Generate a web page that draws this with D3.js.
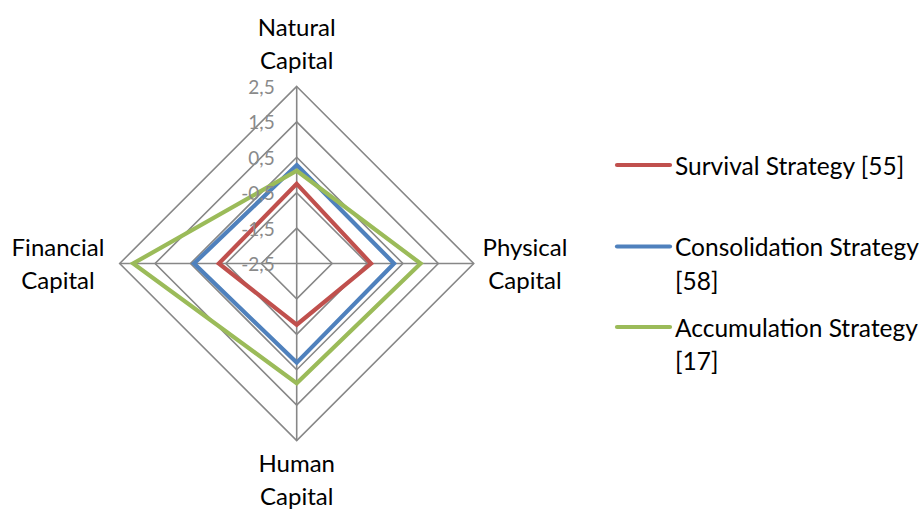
<!DOCTYPE html>
<html>
<head>
<meta charset="utf-8">
<script src="https://cdn.jsdelivr.net/npm/d3@7"></script>
<style>
  html, body { margin: 0; padding: 0; background: #fff; }
  svg { display: block; font-family: Lato, "Open Sans", sans-serif; }
</style>
</head>
<body>
<svg id="chart" width="920" height="509"></svg>
<script>
// Axes of the radar, clockwise from the top
const axes = ["Natural Capital", "Physical Capital", "Human Capital", "Financial Capital"];
const axisLines = [["Natural", "Capital"], ["Physical", "Capital"], ["Human", "Capital"], ["Financial", "Capital"]];

// Scale ticks (rings)
const ticks = [-2.5, -1.5, -0.5, 0.5, 1.5, 2.5];

// Series: mean scores per capital
const seriesNames = ["Survival Strategy [55]", "Consolidation Strategy [58]", "Accumulation Strategy [17]"];
const legendLines = [["Survival Strategy [55]"], ["Consolidation Strategy", "[58]"], ["Accumulation Strategy", "[17]"]];
const survival = [-0.25, -0.40, -0.77, -0.30];
const consolidation = [0.28, 0.25, 0.30, 0.40];
const accumulation = [0.12, 1.00, 0.88, 2.12];
const colors = ["#C0504D", "#4F81BD", "#9BBB59"];

const series = [survival, consolidation, accumulation].map((values, i) => ({
  name: seriesNames[i], values, color: colors[i], legend: legendLines[i]
}));

const svg = d3.select("#chart");
const cx = 296.7, cy = 263.5, R = 177;

const r = d3.scaleLinear().domain([-2.5, 2.5]).range([0, R]);
const angle = d3.scalePoint().domain(d3.range(axes.length)).range([0, 2 * Math.PI * (axes.length - 1) / axes.length]);

const pt = (i, v) => {
  const a = angle(i);
  return [cx + r(v) * Math.sin(a), cy - r(v) * Math.cos(a)];
};

const g = svg.append("g");

// Grid rings
const gridColor = "#878787";
ticks.slice(1).forEach(t => {
  g.append("path")
    .attr("d", d3.line()(d3.range(axes.length).map(i => pt(i, t))) + "Z")
    .attr("fill", "none")
    .attr("stroke", gridColor)
    .attr("stroke-width", 1.6);
});

// Spokes
d3.range(axes.length).forEach(i => {
  const [x, y] = pt(i, 2.5);
  g.append("line")
    .attr("x1", cx).attr("y1", cy).attr("x2", x).attr("y2", y)
    .attr("stroke", gridColor).attr("stroke-width", 1.6);
});

// Series lines
const line = d3.lineRadial()
  .angle((d, i) => angle(i))
  .radius(d => r(d))
  .curve(d3.curveLinearClosed);

series.forEach(s => {
  g.append("path")
    .attr("transform", `translate(${cx},${cy})`)
    .attr("d", line(s.values))
    .attr("fill", "none")
    .attr("stroke", s.color)
    .attr("stroke-width", 4.2)
    .attr("stroke-linejoin", "miter");
});

// Tick labels with decimal comma
const fmt = d3.formatLocale({ decimal: ",", thousands: ".", grouping: [3], currency: ["", ""], minus: "-" }).format(".1f");
g.selectAll(".tick-label")
  .data(ticks)
  .join("text")
  .attr("class", "tick-label")
  .attr("x", cx - 22)
  .attr("y", d => cy - r(d))
  .attr("text-anchor", "end")
  .attr("dominant-baseline", "central")
  .attr("font-size", 19)
  .attr("fill", "#8a8a8a")
  .text(d => fmt(d));

// Axis labels
const labelPos = [[cx, 26], [525, 246], [cx, 462], [58, 246]];
const lineGap = 33;
axisLines.forEach((lines, i) => {
  const t = svg.append("text")
    .attr("text-anchor", "middle")
    .attr("font-size", 24)
    .attr("fill", "#000");
  lines.forEach((txt, j) => {
    t.append("tspan")
      .attr("x", labelPos[i][0])
      .attr("y", labelPos[i][1] + j * lineGap)
      .attr("dominant-baseline", "central")
      .text(txt);
  });
});

// Legend
const legendY = [165, 246.5, 327];
const legend = svg.append("g");
series.forEach((s, i) => {
  legend.append("line")
    .attr("x1", 617).attr("x2", 670)
    .attr("y1", legendY[i]).attr("y2", legendY[i])
    .attr("stroke", s.color).attr("stroke-width", 4.2)
    .attr("stroke-linecap", "round");
  const t = legend.append("text")
    .attr("font-size", 24.5)
    .attr("fill", "#000");
  s.legend.forEach((txt, j) => {
    t.append("tspan")
      .attr("x", 675)
      .attr("y", legendY[i] + j * 33.5)
      .attr("dominant-baseline", "central")
      .text(txt);
  });
});
</script>
</body>
</html>
